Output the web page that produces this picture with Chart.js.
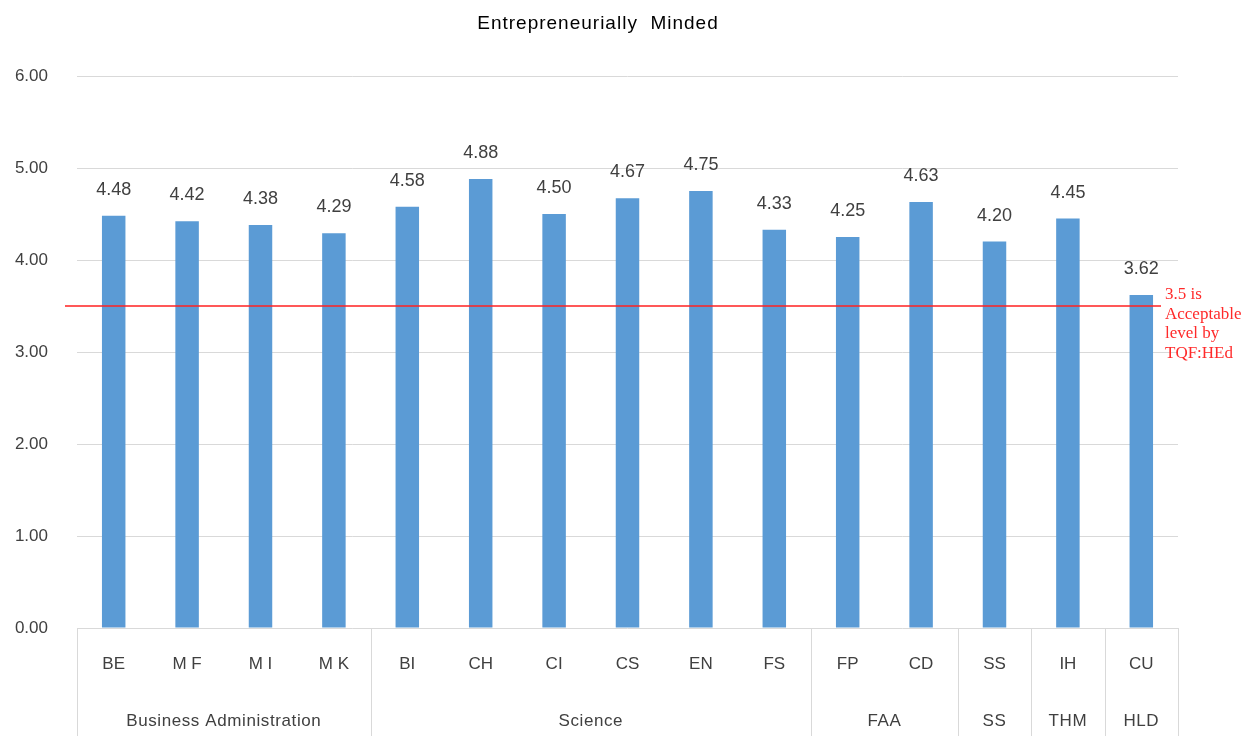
<!DOCTYPE html>
<html>
<head>
<meta charset="utf-8">
<title>Entrepreneurially Minded</title>
<script src="https://cdn.jsdelivr.net/npm/chart.js@4/dist/chart.umd.min.js"></script>
<style>
  html, body { margin: 0; padding: 0; background: #ffffff; }
  canvas { display: block; }
</style>
</head>
<body>
<canvas id="chart" width="1247" height="736"></canvas>
<script>
// Programme codes along the category axis
const programmes = ['BE', 'M F', 'M I', 'M K', 'BI', 'CH', 'CI', 'CS', 'EN', 'FS', 'FP', 'CD', 'SS', 'IH', 'CU'];
// Mean scores per programme
const scores = [4.48, 4.42, 4.38, 4.29, 4.58, 4.88, 4.50, 4.67, 4.75, 4.33, 4.25, 4.63, 4.20, 4.45, 3.62];
// Faculty groups and how many programmes each contains
const faculties = ['Business Administration', 'Science', 'FAA', 'SS', 'THM', 'HLD'];
const facultySizes = [4, 6, 2, 1, 1, 1];
// Y axis range and tick step
const yMin = 0, yMax = 6, yStep = 1;
// Acceptable threshold and its note
const threshold = 3.5;
const thresholdNote = ['3.5 is', 'Acceptable', 'level by', 'TQF:HEd'];
const chartTitle = 'Entrepreneurially  Minded';

const SANS = '"Liberation Sans", Arial, sans-serif';
const SERIF = '"Liberation Serif", "Times New Roman", serif';
const TEXT = '#404040';
const GRID = '#d9d9d9';

const overlay = {
  id: 'overlay',
  afterDraw(chart) {
    const ctx = chart.ctx;
    const x = chart.scales.x, y = chart.scales.y;
    const area = chart.chartArea;
    const H = chart.height;
    ctx.save();

    // title
    ctx.fillStyle = '#000000';
    ctx.font = '19px ' + SANS;
    ctx.letterSpacing = '1px';
    ctx.textAlign = 'center';
    ctx.textBaseline = 'middle';
    ctx.fillText(chartTitle, 598, 24);
    ctx.letterSpacing = '0px';

    // value labels above bars
    const meta = chart.getDatasetMeta(0);
    ctx.fillStyle = TEXT;
    ctx.font = '18px ' + SANS;
    ctx.textBaseline = 'alphabetic';
    meta.data.forEach((bar, i) => {
      ctx.fillText(scores[i].toFixed(2), bar.x, bar.y - 21);
    });

    // faculty dividers and faculty names below the programme codes
    const half = (x.getPixelForValue(1) - x.getPixelForValue(0)) / 2;
    ctx.strokeStyle = GRID;
    ctx.lineWidth = 1;
    let start = 0;
    const edges = [0];
    facultySizes.forEach(n => { start += n; edges.push(start); });
    edges.forEach(idx => {
      const px = Math.round(x.getPixelForValue(idx) - half) + 0.5;
      ctx.beginPath();
      ctx.moveTo(px, area.bottom);
      ctx.lineTo(px, H);
      ctx.stroke();
    });
    ctx.fillStyle = TEXT;
    ctx.font = '17px ' + SANS;
    ctx.letterSpacing = '0.6px';
    ctx.textBaseline = 'middle';
    faculties.forEach((name, g) => {
      const a = x.getPixelForValue(edges[g]) - half;
      const b = x.getPixelForValue(edges[g + 1]) - half;
      ctx.fillText(name, (a + b) / 2, 721);
    });
    ctx.letterSpacing = '0px';

    // threshold line and note
    const ty = y.getPixelForValue(threshold);
    ctx.strokeStyle = '#ff2020';
    ctx.lineWidth = 1.5;
    ctx.beginPath();
    ctx.moveTo(65, ty);
    ctx.lineTo(1161, ty);
    ctx.stroke();
    ctx.fillStyle = '#ff2a2a';
    ctx.font = '17px ' + SERIF;
    ctx.textAlign = 'left';
    ctx.textBaseline = 'middle';
    thresholdNote.forEach((line, i) => {
      ctx.fillText(line, 1165, 295 + i * 19.5);
    });
    ctx.restore();
  }
};

new Chart(document.getElementById('chart'), {
  type: 'bar',
  data: {
    labels: programmes,
    datasets: [{
      data: scores,
      backgroundColor: '#5b9bd5',
      borderWidth: 0,
      barPercentage: 0.32,
      categoryPercentage: 1
    }]
  },
  options: {
    responsive: false,
    animation: false,
    events: [],
    layout: { padding: { top: 76, right: 69, left: 0, bottom: 0 } },
    plugins: {
      legend: { display: false },
      title: { display: false },
      tooltip: { enabled: false }
    },
    scales: {
      x: {
        grid: { display: false, drawTicks: false },
        border: { display: false },
        ticks: { color: TEXT, font: { family: SANS, size: 17 }, padding: 26, maxRotation: 0, autoSkip: false },
        afterFit(s) { s.height = 108; }
      },
      y: {
        min: yMin,
        max: yMax,
        grid: { color: GRID, lineWidth: 1, drawTicks: false },
        border: { display: false },
        ticks: {
          stepSize: yStep,
          color: TEXT,
          font: { family: SANS, size: 17 },
          padding: 29,
          callback: v => Number(v).toFixed(2)
        },
        afterFit(s) { s.width = 77; }
      }
    }
  },
  plugins: [overlay]
});
</script>
</body>
</html>
